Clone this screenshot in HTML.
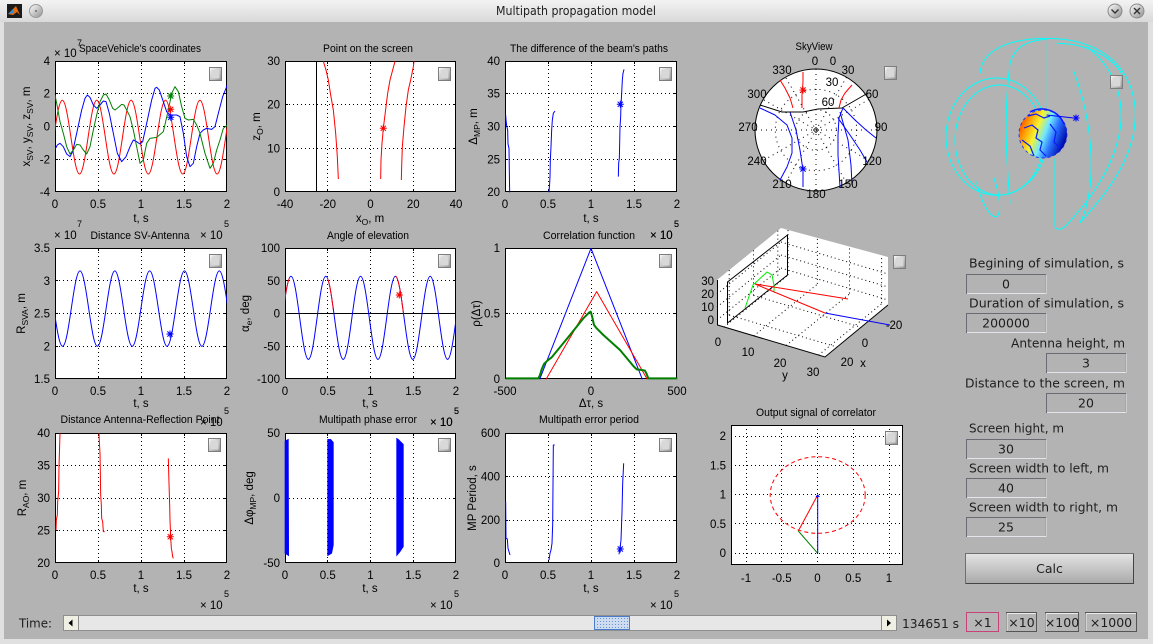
<!DOCTYPE html>
<html><head><meta charset="utf-8">
<style>
html,body{margin:0;padding:0;width:1153px;height:644px;overflow:hidden;background:#b3b3b3;}
svg{position:absolute;left:0;top:0;}
.t{font-family:"Liberation Sans",sans-serif;font-size:11.5px;fill:#000;}
.tt{font-family:"Liberation Sans",sans-serif;font-size:11px;fill:#000;}
.sp{font-family:"Liberation Sans",sans-serif;font-size:9px;fill:#000;}
.ui{font-family:"DejaVu Sans","Liberation Sans",sans-serif;font-size:12.5px;fill:#1e1e1e;}
.g{stroke:#000;stroke-width:1;stroke-dasharray:1 3;fill:none;}
.gs{stroke:#000;stroke-width:1;stroke-dasharray:1 4;fill:none;}
.k{stroke:#000;stroke-width:1;fill:none;}
</style></head><body>
<svg width="1153" height="644" viewBox="0 0 1153 644" xmlns="http://www.w3.org/2000/svg">
<defs>
<linearGradient id="tb" x1="0" y1="0" x2="0" y2="1"><stop offset="0" stop-color="#f3f3f3"/><stop offset="1" stop-color="#d9d9d9"/></linearGradient>
<linearGradient id="tg" x1="0" y1="0" x2="1" y2="1"><stop offset="0" stop-color="#ffffff"/><stop offset="1" stop-color="#8f8f8f"/></linearGradient>
<linearGradient id="cb" x1="0" y1="0" x2="0" y2="1"><stop offset="0" stop-color="#e4e4e4"/><stop offset="1" stop-color="#a9a9a9"/></linearGradient>
<linearGradient id="earth" x1="0" y1="0.1" x2="1" y2="0.5"><stop offset="0" stop-color="#ff2000"/><stop offset="0.22" stop-color="#ff9a00"/><stop offset="0.42" stop-color="#f6f430"/><stop offset="0.6" stop-color="#70e8ff"/><stop offset="0.78" stop-color="#2a70ff"/><stop offset="1" stop-color="#0010b0"/></linearGradient>
<pattern id="dots" width="3" height="3" patternUnits="userSpaceOnUse"><rect width="3" height="3" fill="#cddcf1"/><rect width="1" height="1" fill="#6b93d2"/></pattern>
<clipPath id="c1"><rect x="55" y="61" width="172" height="131"/></clipPath>
<clipPath id="c4"><rect x="55" y="248" width="172" height="131"/></clipPath>
<clipPath id="c5"><rect x="285" y="248" width="171" height="131"/></clipPath>
<clipPath id="r5"><rect x="285" y="248" width="4.3" height="131"/><rect x="327.7" y="248" width="5.3" height="131"/><rect x="396" y="248" width="7.3" height="131"/></clipPath>
<path id="st" d="M-3.5 0h7M0 -3.5v7M-2.6 -2.6l5.2 5.2M-2.6 2.6l5.2 -5.2"/>
<g id="tog"><rect x="0.5" y="0.5" width="12" height="13" fill="url(#tg)" stroke="#7d7d7d"/><rect x="2.5" y="2.5" width="8" height="9" fill="#d8d8d8" stroke="none"/></g>
</defs>

<!-- window chrome -->
<rect width="1153" height="644" fill="#e0e0e0"/>
<rect width="1153" height="22" fill="url(#tb)"/>
<rect x="4" y="22" width="1144" height="617" fill="#b3b3b3"/>
<rect x="7" y="4" width="15" height="14" fill="#1b1b1b"/>
<polygon points="8,14 13,9 16,6 20,15 17,12 13,15" fill="#e86a10"/>
<polygon points="8,14 13,9 14,13" fill="#2f8fd0"/>
<circle cx="36" cy="11" r="6.5" fill="url(#tg)" stroke="#9a9a9a"/>
<circle cx="36" cy="11" r="0.9" fill="#555"/>
<circle cx="1115" cy="11" r="7" fill="url(#tg)" stroke="#8a8a8a"/>
<path d="M1111.5 9.5l3.5 3.5l3.5 -3.5" stroke="#333" stroke-width="1.4" fill="none"/>
<circle cx="1137" cy="11" r="7" fill="url(#tg)" stroke="#8a8a8a"/>
<path d="M1134 8l6 6M1140 8l-6 6" stroke="#333" stroke-width="1.4" fill="none"/>
<text class="ui" x="576" y="15" text-anchor="middle" font-size="11.5" textLength="160" lengthAdjust="spacingAndGlyphs">Multipath propagation model</text>

<!-- ================= ROW 1 ================= -->
<!-- Plot 1 -->
<rect x="55.5" y="61.5" width="171" height="130" fill="#fff" stroke="#000"/>
<path class="g" d="M98.5 61V192M141.5 61V192M184.5 61V192M55 93.5H227M55 126.5H227M55 159.5H227"/>
<path class="k" d="M98.5 192v-3M141.5 192v-3M184.5 192v-3M98.5 61v3M141.5 61v3M184.5 61v3M55 93.5h3M55 126.5h3M55 159.5h3M227 93.5h-3M227 126.5h-3M227 159.5h-3"/>
<g clip-path="url(#c1)" fill="none" stroke-linejoin="round">
<path stroke="#ff0000" d="M45.11,174 C51.37,174 56.05,100.3 62.31,100.3 S73.25,174 79.51,174 S90.45,100.3 96.71,100.3 S107.65,174 113.91,174 S124.85,100.3 131.11,100.3 S142.05,174 148.31,174 S159.25,100.3 165.51,100.3 S176.45,174 182.71,174 S193.65,100.3 199.91,100.3 S210.85,174 217.11,174 S228.05,100.3 234.31,100.3"/>
<g transform="scale(0.333333)" stroke-width="3">
<polyline stroke="#0000ff" points="165,448 172,435 180,430 190,440 200,462 210,470 218,455 230,400 245,330 255,295 262,285 270,292 280,315 290,325 300,315 310,303 318,305 328,340 340,400 352,460 365,485 378,470 390,440 400,420 410,425 420,432 428,425 440,370 455,300 465,265 470,262 478,270 490,305 500,335 510,345 520,345 530,345 540,350 550,400 560,470 570,500 580,490 590,440 600,400 610,390 620,385 635,388 645,380 655,340 668,290 682,255"/>
<polyline stroke="#008000" points="165,285 172,320 180,365 190,400 200,440 210,462 220,450 230,433 240,435 250,450 260,462 270,440 280,390 290,345 300,305 310,285 318,282 328,300 338,325 345,330 355,322 365,313 372,315 380,330 390,350 400,390 410,440 420,490 430,480 440,430 450,415 470,412 490,395 505,330 515,280 525,260 535,275 545,320 555,355 565,360 580,358 590,375 600,400 615,460 630,505 640,490 650,450 660,420 670,385 682,375"/>
</g>
</g>
<use href="#st" x="170.7" y="96" stroke="#008000"/>
<use href="#st" x="170.7" y="109.3" stroke="#ff0000"/>
<use href="#st" x="170.7" y="117.3" stroke="#0000ff"/>
<use href="#tog" x="209" y="67"/>
<text class="tt" x="140" y="52" text-anchor="middle" textLength="122" lengthAdjust="spacingAndGlyphs">SpaceVehicle's coordinates</text>
<text class="t" x="54" y="57">× 10</text><text class="sp" x="77" y="46">7</text>
<text class="t" x="50" y="65" text-anchor="end">4</text>
<text class="t" x="50" y="97.5" text-anchor="end">2</text>
<text class="t" x="50" y="130.5" text-anchor="end">0</text>
<text class="t" x="50" y="163.5" text-anchor="end">-2</text>
<text class="t" x="50" y="196" text-anchor="end">-4</text>
<text class="t" y="208" text-anchor="middle"><tspan x="55">0</tspan><tspan x="98">0.5</tspan><tspan x="141">1</tspan><tspan x="184">1.5</tspan><tspan x="227">2</tspan></text>
<text class="t" x="141" y="222" text-anchor="middle">t, s</text>
<text class="t" x="200" y="239">× 10</text><text class="sp" x="224" y="227">5</text>
<text class="t" transform="translate(30,126.5) rotate(-90)" text-anchor="middle">x<tspan dy="3" font-size="8.5">SV</tspan><tspan dy="-3">, y</tspan><tspan dy="3" font-size="8.5">SV</tspan><tspan dy="-3">, z</tspan><tspan dy="3" font-size="8.5">SV</tspan><tspan dy="-3">, m</tspan></text>

<!-- Plot 2 -->
<rect x="285.5" y="61.5" width="170" height="130" fill="#fff" stroke="#000"/>
<path class="g" d="M327.5 61V192M370.5 61V192M413.5 61V192M285 104.5H456M285 148.5H456"/>
<path class="k" d="M327.5 192v-3M370.5 192v-3M413.5 192v-3M327.5 61v3M370.5 61v3M413.5 61v3M285 104.5h3M285 148.5h3M456 104.5h-3M456 148.5h-3"/>
<path d="M316.5 61V192" stroke="#000" fill="none"/>
<g transform="scale(0.333333)" stroke-width="3" fill="none" stroke="#ff0000" stroke-linejoin="round">
<polyline points="970,184 978,210 985,240 992,285 1000,330 1007,400 1012,470 1015,537"/>
<polyline points="1185,184 1178,210 1170,240 1163,280 1158,320 1150,385 1146,430 1143,480 1142,537"/>
<polyline points="1242,184 1240,200 1232,240 1225,270 1218,320 1212,380 1207,440 1205,500 1204,540"/>
</g>
<use href="#st" x="383.3" y="128.3" stroke="#ff0000"/>
<use href="#tog" x="438" y="67"/>
<text class="tt" x="368" y="52" text-anchor="middle" textLength="90" lengthAdjust="spacingAndGlyphs">Point on the screen</text>
<text class="t" x="280" y="65" text-anchor="end">30</text>
<text class="t" x="280" y="108.7" text-anchor="end">20</text>
<text class="t" x="280" y="152.3" text-anchor="end">10</text>
<text class="t" x="280" y="196" text-anchor="end">0</text>
<text class="t" y="208" text-anchor="middle"><tspan x="285">-40</tspan><tspan x="327.75">-20</tspan><tspan x="370.5">0</tspan><tspan x="413.25">20</tspan><tspan x="456">40</tspan></text>
<text class="t" x="370" y="222" text-anchor="middle">x<tspan dy="3" font-size="8.5">O</tspan><tspan dy="-3">, m</tspan></text>
<text class="t" transform="translate(260,126.5) rotate(-90)" text-anchor="middle">z<tspan dy="3" font-size="8.5">O</tspan><tspan dy="-3">, m</tspan></text>

<!-- Plot 3 -->
<rect x="505.5" y="61.5" width="171" height="130" fill="#fff" stroke="#000"/>
<path class="g" d="M548.5 61V192M591.5 61V192M634.5 61V192M505 93.5H677M505 126.5H677M505 159.5H677"/>
<path class="k" d="M548.5 192v-3M591.5 192v-3M634.5 192v-3M548.5 61v3M591.5 61v3M634.5 61v3M505 93.5h3M505 126.5h3M505 159.5h3M677 93.5h-3M677 126.5h-3M677 159.5h-3"/>
<g transform="translate(470,20) scale(0.333333)" stroke-width="3" fill="none" stroke="#0000ff" stroke-linejoin="round">
<polyline points="107,285 108,300 110,318 113,330 114,372 117,385 118,455 119,517"/>
<polyline points="237,517 239,490 240,470 241,420 243,380 245,330 247,300 250,280 255,273"/>
<polyline points="445,470 446,430 448,415 449,370 450,320 452,290 453,255 455,220 457,180 459,160 462,148"/>
</g>
<use href="#st" x="620.3" y="104.3" stroke="#0000ff"/>
<use href="#tog" x="659" y="67"/>
<text class="tt" x="589" y="52" text-anchor="middle" textLength="158" lengthAdjust="spacingAndGlyphs">The difference of the beam's paths</text>
<text class="t" x="500" y="65" text-anchor="end">40</text>
<text class="t" x="500" y="97.5" text-anchor="end">35</text>
<text class="t" x="500" y="130.5" text-anchor="end">30</text>
<text class="t" x="500" y="163.5" text-anchor="end">25</text>
<text class="t" x="500" y="196" text-anchor="end">20</text>
<text class="t" y="208" text-anchor="middle"><tspan x="505">0</tspan><tspan x="548">0.5</tspan><tspan x="591">1</tspan><tspan x="634">1.5</tspan><tspan x="677">2</tspan></text>
<text class="t" x="591" y="222" text-anchor="middle">t, s</text>
<text class="t" x="650" y="239">× 10</text><text class="sp" x="674" y="227">5</text>
<text class="t" transform="translate(477,126.5) rotate(-90)" text-anchor="middle">Δ<tspan dy="3" font-size="8.5">MP</tspan><tspan dy="-3">, m</tspan></text>

<!-- SkyView -->
<text class="tt" x="814" y="50" text-anchor="middle" textLength="37" lengthAdjust="spacingAndGlyphs">SkyView</text>
<circle cx="816" cy="130" r="61" fill="#fff" stroke="#000"/>
<circle class="gs" cx="816" cy="130" r="20.3"/>
<circle class="gs" cx="816" cy="130" r="40.7"/>
<path class="gs" d="M816 69V191M846.5 77.2L785.5 182.8M868.8 99.5L763.2 160.5M877 130H755M868.8 160.5L763.2 99.5M846.5 182.8L785.5 77.2"/>
<path d="M816 127.5l2.5 2.5l-2.5 2.5l-2.5 -2.5z" fill="none" stroke="#000" stroke-width="0.8"/>
<g fill="none" stroke-linejoin="round">
<polyline stroke="#0000ff" points="760,108 775,115 787,125 792,138 792,153 787,167 780,180"/>
<polyline stroke="#0000ff" points="790,112 796,130 800,150 803,170 803,187"/>
<polyline stroke="#0000ff" points="843,108 839,118 838,135 838,155 840,187"/>
<polyline stroke="#0000ff" points="838,118 850,135 860,150 867,162"/>
<polyline stroke="#0000ff" points="840,112 848,140 851,165 852,185"/>
<polyline stroke="#0000ff" points="843,108 855,120 866,130 876,138"/>
<polyline stroke="#000" points="760,105 782,112 803,112 818,109 842,108 868,93"/>
<polyline stroke="#ff0000" points="780,80 785,88 790,98 793,108"/>
<polyline stroke="#ff0000" points="803,72 803,82 802,95 802,108"/>
<polyline stroke="#ff0000" points="852,85 845,93 841,100 839,108"/>
</g>
<use href="#st" x="803" y="90" stroke="#ff0000"/>
<use href="#st" x="803" y="169" stroke="#0000ff"/>
<g class="t" text-anchor="middle">
<text x="815" y="65">0</text><text x="833" y="65">0</text>
<text x="782" y="74">330</text><text x="848" y="74">30</text>
<text x="832" y="86">30</text>
<text x="757" y="98">300</text><text x="872" y="98">60</text>
<text x="828" y="106">60</text>
<text x="748" y="131">270</text><text x="881" y="131">90</text>
<text x="757" y="165">240</text><text x="872" y="165">120</text>
<text x="782" y="188">210</text><text x="848" y="188">150</text>
<text x="816" y="198">180</text>
</g>
<use href="#tog" x="884" y="66"/>

<!-- Globe -->
<g transform="translate(900,30) scale(0.333333)" fill="none" stroke="#00ffff" stroke-width="3">
<ellipse cx="290" cy="320" rx="152" ry="176"/>
<ellipse cx="298" cy="330" rx="133" ry="165"/>
<path d="M240,130 C245,60 330,25 440,25 C580,25 690,90 705,230 C715,360 640,470 540,578"/>
<path d="M330,520 C320,400 310,250 330,100 C345,40 400,30 440,28"/>
<path d="M437,35 L437,245"/>
<path d="M465,385 L465,590 C470,602 485,600 500,585 C560,520 640,420 660,300 C675,200 640,110 560,50"/>
<path d="M230,455 C240,510 270,565 290,560 C305,550 300,490 280,440"/>
<path d="M540,578 C550,560 560,540 570,470 C580,380 570,250 520,120"/>
<path d="M470,40 C560,40 640,80 670,140"/>
</g>
<circle cx="1043" cy="134" r="24" fill="url(#earth)"/>
<circle cx="1043" cy="134" r="24" fill="none" stroke="#0a1aff" stroke-width="1" stroke-dasharray="3 3" opacity="0.8"/>
<g fill="none" stroke="#0a1aff" stroke-width="1.2">
<path d="M1024,128 L1032,125 L1038,130 L1036,138 L1042,142 L1040,150 L1046,156"/>
<path d="M1028,116 L1036,114 L1044,118 L1050,116"/>
<path d="M1050,124 L1056,132 L1054,142 L1060,148"/>
<path d="M1022,140 L1030,146 L1034,156"/>
<path d="M1030,112 A24 24 0 0 1 1064,124" stroke-width="1.5"/>
</g>
<path d="M1046.7,115 L1076,118.3" stroke="#0000ff" fill="none"/>
<use href="#st" x="1076" y="118" stroke="#0000ff"/>
<use href="#tog" x="1110" y="75"/>

<!-- ================= ROW 2 ================= -->
<!-- Plot 4 -->
<rect x="55.5" y="248.5" width="171" height="130" fill="#fff" stroke="#000"/>
<path class="g" d="M98.5 248V379M141.5 248V379M184.5 248V379M55 280.5H227M55 313.5H227M55 346.5H227"/>
<path class="k" d="M98.5 379v-3M141.5 379v-3M184.5 379v-3M98.5 248v3M141.5 248v3M184.5 248v3M55 280.5h3M55 313.5h3M55 346.5h3M227 280.5h-3M227 313.5h-3M227 346.5h-3"/>
<g clip-path="url(#c4)"><path fill="none" stroke="#0000ff" d="M45.16,270.9 C51.5,270.9 56.23,346.25 62.57,346.25 S73.65,270.9 79.99,270.9 S91.06,346.25 97.40,346.25 S108.48,270.9 114.82,270.9 S125.89,346.25 132.23,346.25 S143.31,270.9 149.65,270.9 S160.72,346.25 167.06,346.25 S178.14,270.9 184.48,270.9 S195.55,346.25 201.89,346.25 S212.97,270.9 219.31,270.9 S230.38,346.25 236.72,346.25"/></g>
<use href="#st" x="170" y="334" stroke="#0000ff"/>
<use href="#tog" x="209" y="254"/>
<text class="tt" x="140" y="239" text-anchor="middle" textLength="99" lengthAdjust="spacingAndGlyphs">Distance SV-Antenna</text>
<text class="t" x="54" y="239">× 10</text><text class="sp" x="77" y="227">7</text>
<text class="t" x="50" y="252" text-anchor="end">3.5</text>
<text class="t" x="50" y="284.75" text-anchor="end">3</text>
<text class="t" x="50" y="317.5" text-anchor="end">2.5</text>
<text class="t" x="50" y="350.25" text-anchor="end">2</text>
<text class="t" x="50" y="383" text-anchor="end">1.5</text>
<text class="t" y="395" text-anchor="middle"><tspan x="55">0</tspan><tspan x="98">0.5</tspan><tspan x="141">1</tspan><tspan x="184">1.5</tspan><tspan x="227">2</tspan></text>
<text class="t" x="141" y="407" text-anchor="middle">t, s</text>
<text class="t" x="200" y="426">× 10</text><text class="sp" x="224" y="414">5</text>
<text class="t" transform="translate(25,313.5) rotate(-90)" text-anchor="middle">R<tspan dy="3" font-size="8.5">SVA</tspan><tspan dy="-3">, m</tspan></text>

<!-- Plot 5 -->
<rect x="285.5" y="248.5" width="170" height="130" fill="#fff" stroke="#000"/>
<path class="g" d="M327.5 248V379M370.5 248V379M413.5 248V379M285 280.5H456M285 346.5H456"/>
<path class="k" d="M327.5 379v-3M370.5 379v-3M413.5 379v-3M327.5 248v3M370.5 248v3M413.5 248v3M285 280.5h3M285 346.5h3M456 280.5h-3M456 346.5h-3"/>
<path d="M285 313.5H456" stroke="#000" fill="none"/>
<g clip-path="url(#c5)"><path fill="none" stroke="#0000ff" d="M273.59,359.35 C279.93,359.35 284.65,276.2 290.99,276.2 S302.05,359.35 308.39,359.35 S319.45,276.2 325.79,276.2 S336.85,359.35 343.19,359.35 S354.25,276.2 360.59,276.2 S371.65,359.35 377.99,359.35 S389.05,276.2 395.39,276.2 S406.45,359.35 412.79,359.35 S423.85,276.2 430.19,276.2 S441.25,359.35 447.59,359.35 S458.65,276.2 464.99,276.2"/></g>
<g clip-path="url(#r5)"><path fill="none" stroke="#ff0000" d="M273.59,359.35 C279.93,359.35 284.65,276.2 290.99,276.2 S302.05,359.35 308.39,359.35 S319.45,276.2 325.79,276.2 S336.85,359.35 343.19,359.35 S354.25,276.2 360.59,276.2 S371.65,359.35 377.99,359.35 S389.05,276.2 395.39,276.2 S406.45,359.35 412.79,359.35 S423.85,276.2 430.19,276.2"/></g>
<use href="#st" x="399.3" y="295" stroke="#ff0000"/>
<use href="#tog" x="438" y="254"/>
<text class="tt" x="368" y="239" text-anchor="middle" textLength="82" lengthAdjust="spacingAndGlyphs">Angle of elevation</text>
<text class="t" x="280" y="252" text-anchor="end">100</text>
<text class="t" x="280" y="284.75" text-anchor="end">50</text>
<text class="t" x="280" y="317.5" text-anchor="end">0</text>
<text class="t" x="280" y="350.25" text-anchor="end">-50</text>
<text class="t" x="280" y="383" text-anchor="end">-100</text>
<text class="t" y="395" text-anchor="middle"><tspan x="285">0</tspan><tspan x="327.75">0.5</tspan><tspan x="370.5">1</tspan><tspan x="413.25">1.5</tspan><tspan x="456">2</tspan></text>
<text class="t" x="370" y="407" text-anchor="middle">t, s</text>
<text class="t" x="430" y="426">× 10</text><text class="sp" x="454" y="414">5</text>
<text class="t" transform="translate(249,313.5) rotate(-90)" text-anchor="middle">α<tspan dy="3" font-size="8.5">e</tspan><tspan dy="-3">, deg</tspan></text>

<!-- Plot 6 -->
<rect x="505.5" y="248.5" width="171" height="130" fill="#fff" stroke="#000"/>
<path class="g" d="M591.5 248V379M505 313.5H677"/>
<path class="k" d="M591.5 379v-3M591.5 248v3M505 313.5h3M677 313.5h-3"/>
<g transform="translate(470,210) scale(0.333333)" fill="none" stroke-width="3" stroke-linejoin="round">
<polyline stroke="#0000ff" points="209,508 363,115 517,508"/>
<polyline stroke="#ff0000" points="228,508 380,245 532,508"/>
<polyline stroke="#008000" stroke-width="6" points="107,505 205,505 210,495 215,478 222,462 232,452 245,442 300,375 340,325 358,307 362,305 366,318 372,345 380,355 400,375 450,420 490,468 500,478 515,480 525,482 530,492 535,505 622,505"/>
</g>
<use href="#tog" x="659" y="254"/>
<text class="tt" x="589" y="239" text-anchor="middle" textLength="92" lengthAdjust="spacingAndGlyphs">Correlation function</text>
<text class="t" x="650" y="239">× 10</text><text class="sp" x="674" y="227">5</text>
<text class="t" x="500" y="252" text-anchor="end">1</text>
<text class="t" x="500" y="317.5" text-anchor="end">0.5</text>
<text class="t" x="500" y="383" text-anchor="end">0</text>
<text class="t" y="395" text-anchor="middle"><tspan x="505">-500</tspan><tspan x="591">0</tspan><tspan x="677">500</tspan></text>
<text class="t" x="591" y="407" text-anchor="middle">Δτ, s</text>
<text class="t" transform="translate(480,313.5) rotate(-90)" text-anchor="middle">ρ(Δτ)</text>

<!-- 3D plot -->
<polygon points="717,280 781,228 888,257 888,305 825,357 717,325" fill="#fff"/>
<path class="g" d="M717 320L781 268M717 307L781 255M717 294L781 242M781 268L888 300M781 255L888 287M781 242L888 274M729.2 315.1v-45M753.5 295.4v-45M777.8 275.6v-45M788 275.1v-45M817.4 283.9v-45M849.5 293.5v-45M881.6 303.1v-45M729.2 315.1L837.2 347.1M753.5 295.4L861.5 327.4M724 327.1L788 275.1M753.7 335.9L817.7 283.9M786.1 345.5L850.1 293.5M818.5 355.1L882.5 303.1"/>
<path class="k" d="M717.5 280V325L825 357L888 305"/>
<path class="k" d="M727.5 282L787.5 235V275L727.5 323Z"/>
<polyline fill="none" stroke="#00ee00" points="745,308 753,285 767,272 772,275 774,285 774,292"/>
<path fill="none" stroke="#ff0000" d="M755 284L848 299M755 284L825 313"/>
<path fill="none" stroke="#0000ff" d="M825 313L890 325"/>
<use href="#tog" x="893" y="255"/>
<g class="t" text-anchor="end"><text x="714" y="285">30</text><text x="714" y="298">20</text><text x="714" y="311">10</text><text x="714" y="324">0</text></g>
<g class="t" text-anchor="middle"><text x="718" y="346">0</text><text x="748" y="356">10</text><text x="780" y="367">20</text><text x="813" y="376">30</text><text x="785" y="379">y</text>
<text x="847" y="366">20</text><text x="865" y="347">0</text><text x="894" y="329">-20</text><text x="863" y="367">x</text></g>

<!-- ================= ROW 3 ================= -->
<!-- Plot 7 -->
<rect x="55.5" y="433.5" width="171" height="129" fill="#fff" stroke="#000"/>
<path class="g" d="M98.5 433V563M141.5 433V563M184.5 433V563M55 465.5H227M55 498.5H227M55 530.5H227"/>
<path class="k" d="M98.5 563v-3M141.5 563v-3M184.5 563v-3M98.5 433v3M141.5 433v3M184.5 433v3M55 465.5h3M55 498.5h3M55 530.5h3M227 465.5h-3M227 498.5h-3M227 530.5h-3"/>
<g transform="translate(0,405) scale(0.333333)" fill="none" stroke="#ff0000" stroke-width="3" stroke-linejoin="round">
<polyline points="168,375 169,345 172,330 173,290 176,260 177,185 179,120 180,85"/>
<polyline points="297,85 298,110 300,145 301,200 302,270 304,300 305,340 308,350 310,380 314,380"/>
<polyline points="505,160 506,200 507,235 509,300 510,345 512,395 514,430 516,440 518,455 520,460"/>
</g>
<use href="#st" x="170.3" y="536.7" stroke="#ff0000"/>
<use href="#tog" x="208" y="438"/>
<text class="tt" x="140" y="423" text-anchor="middle" textLength="159" lengthAdjust="spacingAndGlyphs">Distance Antenna-Reflection Point</text>
<text class="t" x="50" y="437" text-anchor="end">40</text>
<text class="t" x="50" y="469.5" text-anchor="end">35</text>
<text class="t" x="50" y="502" text-anchor="end">30</text>
<text class="t" x="50" y="534.5" text-anchor="end">25</text>
<text class="t" x="50" y="567" text-anchor="end">20</text>
<text class="t" y="579" text-anchor="middle"><tspan x="55">0</tspan><tspan x="98">0.5</tspan><tspan x="141">1</tspan><tspan x="184">1.5</tspan><tspan x="227">2</tspan></text>
<text class="t" x="141" y="592" text-anchor="middle">t, s</text>
<text class="t" x="200" y="609">× 10</text><text class="sp" x="224" y="597">5</text>
<text class="t" transform="translate(26,498) rotate(-90)" text-anchor="middle">R<tspan dy="3" font-size="8.5">AO</tspan><tspan dy="-3">, m</tspan></text>

<!-- Plot 8 -->
<rect x="285.5" y="433.5" width="170" height="129" fill="#fff" stroke="#000"/>
<path class="g" d="M327.5 433V563M370.5 433V563M413.5 433V563M285 498.5H456"/>
<path class="k" d="M327.5 563v-3M370.5 563v-3M413.5 563v-3M327.5 433v3M370.5 433v3M413.5 433v3M285 498.5h3M456 498.5h-3"/>
<g transform="translate(0,405) scale(0.333333)" fill="#0000ff" stroke="#0000ff" stroke-width="2">
<polygon points="855,108 865,103 866,452 855,445"/>
<polygon points="983,103 992,103 1000,112 1000,420 995,445 983,452"/>
<polygon points="1190,100 1195,103 1210,118 1210,425 1200,440 1190,452"/>
</g>
<use href="#tog" x="438" y="438"/>
<text class="tt" x="368" y="423" text-anchor="middle" textLength="98" lengthAdjust="spacingAndGlyphs">Multipath phase error</text>
<text class="t" x="430" y="426">× 10</text><text class="sp" x="454" y="414">5</text>
<text class="t" x="280" y="437" text-anchor="end">50</text>
<text class="t" x="280" y="502" text-anchor="end">0</text>
<text class="t" x="280" y="567" text-anchor="end">-50</text>
<text class="t" y="579" text-anchor="middle"><tspan x="285">0</tspan><tspan x="327.75">0.5</tspan><tspan x="370.5">1</tspan><tspan x="413.25">1.5</tspan><tspan x="456">2</tspan></text>
<text class="t" x="370" y="592" text-anchor="middle">t, s</text>
<text class="t" x="430" y="609">× 10</text><text class="sp" x="454" y="597">5</text>
<text class="t" transform="translate(253,498) rotate(-90)" text-anchor="middle">Δφ<tspan dy="3" font-size="8.5">MP</tspan><tspan dy="-3">, deg</tspan></text>

<!-- Plot 9 -->
<rect x="505.5" y="433.5" width="171" height="129" fill="#fff" stroke="#000"/>
<path class="g" d="M548.5 433V563M591.5 433V563M634.5 433V563M505 476.5H677M505 520.5H677"/>
<path class="k" d="M548.5 563v-3M591.5 563v-3M634.5 563v-3M548.5 433v3M591.5 433v3M634.5 433v3M505 476.5h3M505 520.5h3M677 476.5h-3M677 520.5h-3"/>
<g transform="translate(470,405) scale(0.333333)" fill="none" stroke="#0000ff" stroke-width="3" stroke-linejoin="round">
<polyline points="107,290 108,400 112,402 114,430 117,440 120,450"/>
<polyline points="237,465 240,445 243,435 246,415 248,360 250,120 254,120"/>
<polyline points="447,448 450,430 453,405 456,320 458,235 461,175"/>
</g>
<use href="#st" x="620.3" y="549" stroke="#0000ff"/>
<use href="#tog" x="659" y="438"/>
<text class="tt" x="589" y="423" text-anchor="middle" textLength="100" lengthAdjust="spacingAndGlyphs">Multipath error period</text>
<text class="t" x="500" y="437" text-anchor="end">600</text>
<text class="t" x="500" y="480.5" text-anchor="end">400</text>
<text class="t" x="500" y="524" text-anchor="end">200</text>
<text class="t" x="500" y="567" text-anchor="end">0</text>
<text class="t" y="579" text-anchor="middle"><tspan x="505">0</tspan><tspan x="548">0.5</tspan><tspan x="591">1</tspan><tspan x="634">1.5</tspan><tspan x="677">2</tspan></text>
<text class="t" x="591" y="592" text-anchor="middle">t, s</text>
<text class="t" x="650" y="609">× 10</text><text class="sp" x="674" y="597">5</text>
<text class="t" transform="translate(476,498) rotate(-90)" text-anchor="middle">MP Period, s</text>

<!-- Plot 10 -->
<rect x="731.5" y="425.5" width="171" height="139" fill="#fff" stroke="#000"/>
<path class="g" d="M746.5 425V565M781.5 425V565M817.5 425V565M853.5 425V565M889.5 425V565M731 436.5H903M731 465.5H903M731 494.5H903M731 523.5H903M731 553.5H903"/>
<ellipse cx="817.7" cy="495" rx="47.5" ry="38.3" fill="none" stroke="#ff0000" stroke-dasharray="4 3"/>
<path fill="none" stroke="#ff0000" d="M798.3 531L817.7 495"/>
<path fill="none" stroke="#008000" d="M798.3 531L817.7 553.3"/>
<path fill="none" stroke="#0000ff" d="M817.7 553.3V495M816 497l1.7 -2l1.7 2"/>
<use href="#tog" x="885" y="431"/>
<text class="tt" x="816" y="416" text-anchor="middle" textLength="120" lengthAdjust="spacingAndGlyphs">Output signal of correlator</text>
<text class="t" x="726" y="440" text-anchor="end">2</text>
<text class="t" x="726" y="469.25" text-anchor="end">1.5</text>
<text class="t" x="726" y="498.5" text-anchor="end">1</text>
<text class="t" x="726" y="527.75" text-anchor="end">0.5</text>
<text class="t" x="726" y="557" text-anchor="end">0</text>
<text class="t" y="582" text-anchor="middle"><tspan x="746">-1</tspan><tspan x="781.75">-0.5</tspan><tspan x="817.5">0</tspan><tspan x="853.25">0.5</tspan><tspan x="889">1</tspan></text>

<!-- ================= Right panel controls ================= -->
<g class="ui">
<text x="969" y="267.5" textLength="155" lengthAdjust="spacingAndGlyphs">Begining of simulation, s</text>
<text x="969" y="307.5" textLength="155" lengthAdjust="spacingAndGlyphs">Duration of simulation, s</text>
<text x="1011" y="347.5" textLength="114" lengthAdjust="spacingAndGlyphs">Antenna height, m</text>
<text x="965" y="387.5" textLength="160" lengthAdjust="spacingAndGlyphs">Distance to the screen, m</text>
<text x="969" y="432.5" textLength="95" lengthAdjust="spacingAndGlyphs">Screen hight, m</text>
<text x="969" y="472.5" textLength="140" lengthAdjust="spacingAndGlyphs">Screen width to left, m</text>
<text x="969" y="511.5" textLength="149" lengthAdjust="spacingAndGlyphs">Screen width to right, m</text>
</g>
<g fill="#b3b3b3" stroke="#6a6a75">
<rect x="966.5" y="274.5" width="79" height="19"/>
<rect x="966.5" y="313.5" width="79" height="19"/>
<rect x="1046.5" y="353.5" width="79" height="19"/>
<rect x="1046.5" y="393.5" width="79" height="19"/>
<rect x="966.5" y="439.5" width="79" height="19"/>
<rect x="966.5" y="478.5" width="79" height="19"/>
<rect x="966.5" y="517.5" width="79" height="19"/>
</g>
<g fill="none" stroke="#e4e4ea">
<path d="M967 293.5H1046V275M967 332.5H1046V314M1047 372.5H1126V354M1047 412.5H1126V394M967 458.5H1046V440M967 497.5H1046V479M967 536.5H1046V518"/>
</g>
<g class="ui" text-anchor="middle" fill="#333">
<text x="1006" y="288.5">0</text>
<text x="1006" y="327.5">200000</text>
<text x="1086" y="367.5">3</text>
<text x="1086" y="407.5">20</text>
<text x="1006" y="453.5">30</text>
<text x="1006" y="492.5">40</text>
<text x="1006" y="531.5">25</text>
</g>
<rect x="965.5" y="553.5" width="168" height="30" fill="url(#cb)" stroke="#6f6f6f"/>
<path d="M966 583.5H1133.5V554" stroke="#444" fill="none"/>
<text class="ui" x="1049.5" y="573" text-anchor="middle">Calc</text>

<!-- ================= Bottom bar ================= -->
<text class="ui" x="19" y="627.5" textLength="33" lengthAdjust="spacingAndGlyphs">Time:</text>
<rect x="63.5" y="615.5" width="833" height="15" fill="#e7e7e7" stroke="#8e8e8e"/>
<rect x="63.5" y="615.5" width="15" height="15" fill="#f0efe4" stroke="#8e8e8e"/>
<polygon points="72.5,619.5 72.5,626.5 68.5,623" fill="#000"/>
<rect x="881.5" y="615.5" width="15" height="15" fill="#f0efe4" stroke="#8e8e8e"/>
<polygon points="887,619.5 887,626.5 891,623" fill="#000"/>
<rect x="594.5" y="616.5" width="35" height="13" fill="url(#dots)" stroke="#4a7cc9"/>
<text class="ui" x="902" y="628" textLength="57" lengthAdjust="spacingAndGlyphs">134651 s</text>
<g>
<rect x="966.5" y="612.5" width="32" height="19" fill="#b6b6b6" stroke="#c8427a"/>
<rect x="1006.5" y="612.5" width="30" height="19" fill="#b6b6b6" stroke="#555"/>
<rect x="1045.5" y="612.5" width="33" height="19" fill="#b6b6b6" stroke="#555"/>
<rect x="1085.5" y="612.5" width="51" height="19" fill="#b6b6b6" stroke="#555"/>
<path d="M1007 613.5H1036M1007 613.5V631M1046 613.5H1078M1046 613.5V631M1086 613.5H1136M1086 613.5V631" stroke="#ececec" fill="none"/>
</g>
<g class="ui" text-anchor="middle">
<text x="982.5" y="627">×1</text>
<text x="1021.5" y="627">×10</text>
<text x="1062" y="627">×100</text>
<text x="1111" y="627">×1000</text>
</g>
</svg>
</body></html>
